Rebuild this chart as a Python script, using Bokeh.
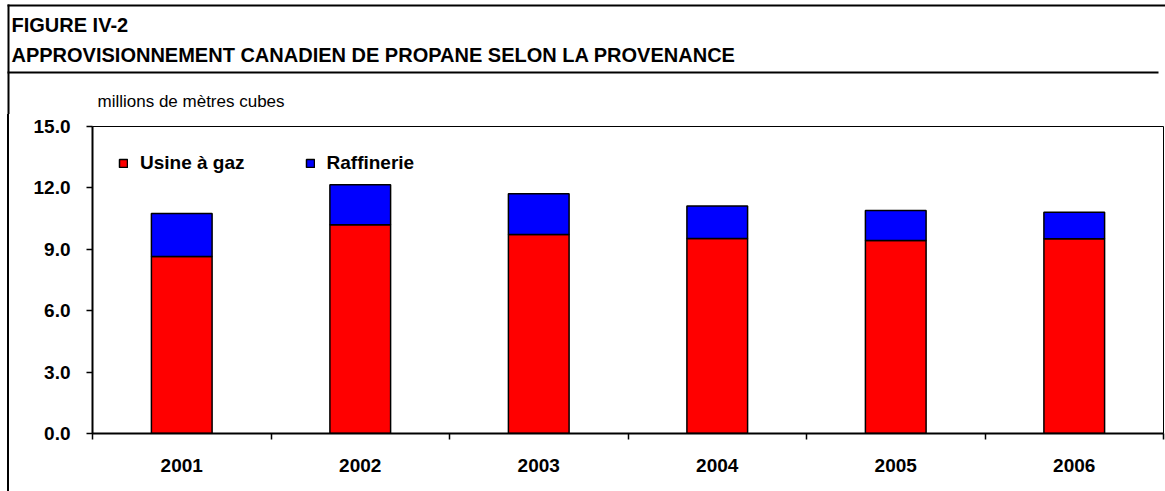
from bokeh.plotting import figure
from bokeh.layouts import column, row
from bokeh.models import (ColumnDataSource, Range1d, FixedTicker, NumeralTickFormatter, Legend, Div)
from bokeh.core.properties import value
from bokeh.embed import file_html
from bokeh.resources import INLINE

# ---- data ----
years = ["2001", "2002", "2003", "2004", "2005", "2006"]
usine_a_gaz = [8.65, 10.20, 9.72, 9.53, 9.43, 9.51]
raffinerie = [2.10, 1.96, 1.99, 1.59, 1.46, 1.30]
y_ticks = [0, 3, 6, 9, 12, 15]
series_names = ["Usine à gaz", "Raffinerie"]
title_line1 = "FIGURE IV-2"
title_line2 = "APPROVISIONNEMENT CANADIEN DE PROPANE SELON LA PROVENANCE"
unit_label = "millions de mètres cubes"

FONT = "Liberation Sans"
TOTAL_W, TOTAL_H = 1165, 491
STRIP_W = 10
TOP_H = 114
CH = TOTAL_H - TOP_H

# ---------------- header (titles, rules, unit label) ----------------
t = figure(width=TOTAL_W, height=TOP_H, output_backend="svg", toolbar_location=None,
           x_range=Range1d(0, TOTAL_W), y_range=Range1d(TOP_H, 0),
           x_axis_location=None, y_axis_location=None, min_border=0)
t.outline_line_color = None
t.xgrid.visible = False
t.ygrid.visible = False
t.background_fill_color = "white"
t.border_fill_color = "white"
# outer frame (top + left edge) and rule under the title
t.quad(left=[7, 7, 7], right=[TOTAL_W, 9, 1158], top=[4, 4, 71], bottom=[6, TOP_H, 73],
       fill_color="black", line_color=None)
t.text(x=[11, 11], y=[24, 54], text=[title_line1, title_line2],
       text_font=value(FONT), text_font_style="bold", text_font_size="20px",
       text_baseline="middle", text_align="left", text_color="black")
t.text(x=[97], y=[101], text=[unit_label],
       text_font=value(FONT), text_font_size="17px",
       text_baseline="middle", text_align="left", text_color="black")

# ---------------- left edge of the outer frame, beside the chart ----------------
strip = Div(text="", width=2, height=CH, margin=(0, STRIP_W - 9, 0, 7),
            styles={"background-color": "black"})

# ---------------- chart ----------------
centers = [i + 0.5 for i in range(len(years))]
source = ColumnDataSource(dict(x=centers, usine=usine_a_gaz, raff=raffinerie))

p = figure(width=TOTAL_W - STRIP_W, height=CH, output_backend="svg", toolbar_location=None,
           x_range=Range1d(0, len(years)), y_range=Range1d(0, 15),
           min_border_left=82, min_border_right=2, min_border_top=12, min_border_bottom=58)
p.background_fill_color = "white"
p.border_fill_color = "white"
p.outline_line_color = "black"
p.outline_line_width = 1
p.xgrid.visible = False
p.ygrid.visible = False

rs = p.vbar_stack(["usine", "raff"], x="x", width=0.34, source=source,
                  fill_color=["#FF0000", "#0000FF"], line_color="black", line_width=1.5)

ya = p.yaxis[0]
ya.ticker = FixedTicker(ticks=y_ticks, minor_ticks=[])
ya.formatter = NumeralTickFormatter(format="0.0")
ya.axis_line_width = 2
ya.major_tick_line_width = 1.5
ya.major_tick_in = 0
ya.major_tick_out = 6
ya.minor_tick_line_color = None
ya.major_label_standoff = 16
ya.major_label_text_font = FONT
ya.major_label_text_font_style = "bold"
ya.major_label_text_font_size = "19px"
ya.major_label_text_color = "black"

xa = p.xaxis[0]
xa.ticker = FixedTicker(ticks=centers, minor_ticks=list(range(len(years) + 1)))
xa.major_label_overrides = {c: y for c, y in zip(centers, years)}
xa.axis_line_width = 2
xa.major_tick_line_color = None
xa.minor_tick_line_color = "black"
xa.minor_tick_line_width = 1.5
xa.minor_tick_in = 0
xa.minor_tick_out = 6
xa.major_tick_out = 6
xa.major_tick_in = 0
xa.major_label_standoff = 19
xa.major_label_text_font = FONT
xa.major_label_text_font_style = "bold"
xa.major_label_text_font_size = "19px"
xa.major_label_text_color = "black"

legend = Legend(items=[(series_names[0], [rs[0]]), (series_names[1], [rs[1]])],
                location="top_left", orientation="horizontal",
                margin=26, padding=0, spacing=60,
                glyph_width=10, glyph_height=10, label_standoff=12,
                label_text_font=FONT, label_text_font_style="bold",
                label_text_font_size="19px", label_text_color="black",
                border_line_color=None, background_fill_alpha=0)
p.add_layout(legend)

layout = column(t, row(strip, p))
open("out.html", "w").write(file_html(layout, INLINE))
